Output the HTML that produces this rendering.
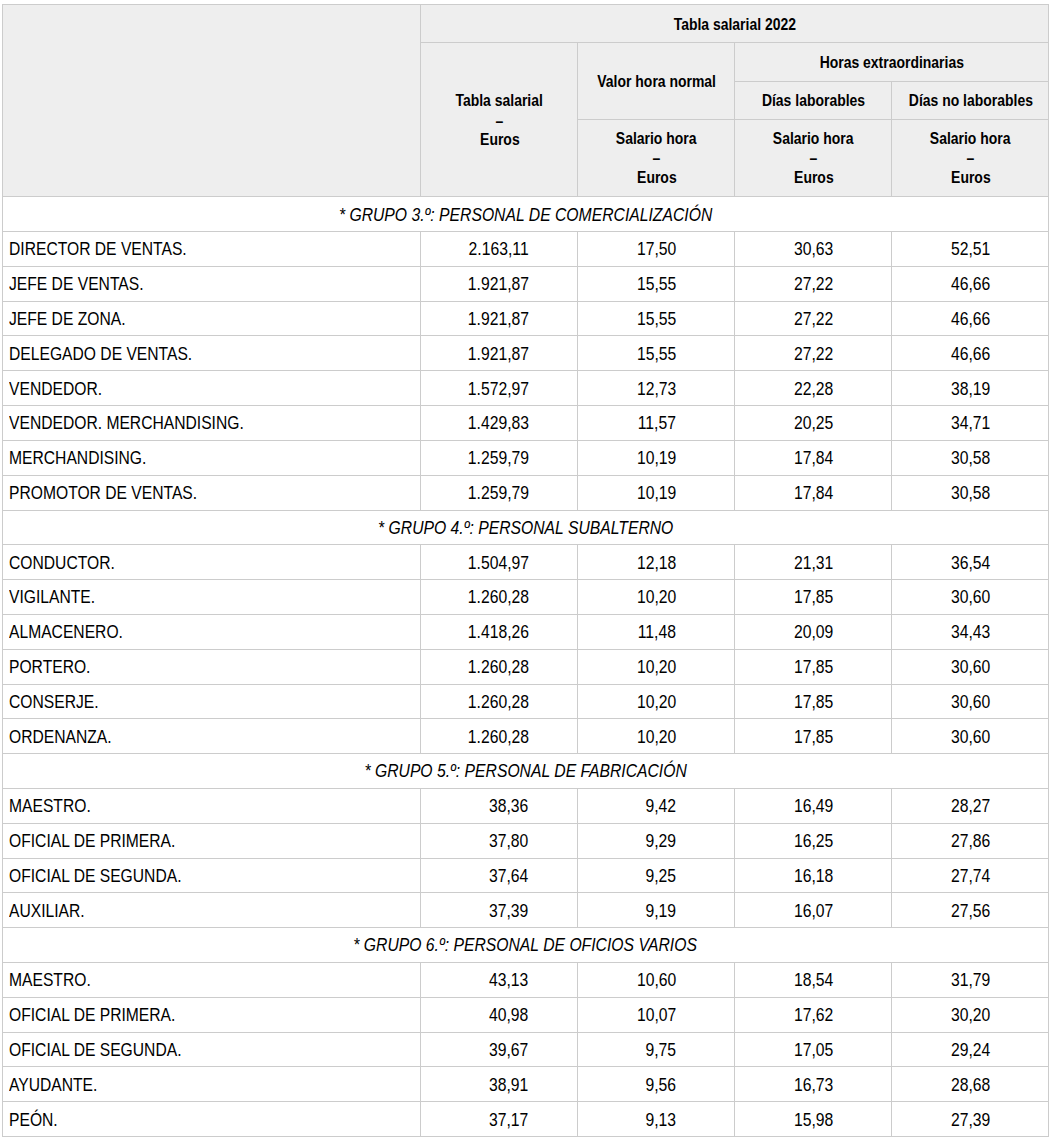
<!DOCTYPE html><html><head><meta charset="utf-8"><style>
html,body{margin:0;padding:0;background:#fff}
body{width:1055px;height:1148px;position:relative;overflow:hidden;font-family:"Liberation Sans",sans-serif;color:#000}
.h,.v{position:absolute;background:#ccc}
.h{height:1px} .v{width:1px}
.t{position:absolute;white-space:nowrap;line-height:20px;height:20px}
.b{font-size:18.5px}
.i{font-style:italic}
.hd{font-weight:bold;font-size:16.5px}
.t span{display:inline-block}
.c{text-align:center} .r{text-align:right} .l{text-align:left}
.b span{transform:scaleX(0.85)}
.b.l span{transform:scaleX(0.846)}
.hd span{transform:translateX(0.5px) scaleX(0.846)}
.c span{transform-origin:50% 50%} .r span{transform-origin:100% 50%} .l span{transform-origin:0 50%}

</style></head><body>
<div style="position:absolute;left:2px;top:4px;width:1047px;height:193px;background:#eee"></div>
<div class="h" style="top:4px;left:2px;width:1047px"></div>
<div class="h" style="top:42px;left:420px;width:629px"></div>
<div class="h" style="top:81px;left:734px;width:315px"></div>
<div class="h" style="top:119px;left:577px;width:472px"></div>
<div class="h" style="top:196px;left:2px;width:1047px"></div>
<div class="v" style="left:2px;top:4px;height:1133px"></div>
<div class="v" style="left:1048px;top:4px;height:1133px"></div>
<div class="v" style="left:420px;top:4px;height:193px"></div>
<div class="v" style="left:577px;top:42px;height:155px"></div>
<div class="v" style="left:734px;top:42px;height:155px"></div>
<div class="v" style="left:891px;top:81px;height:116px"></div>
<div class="h" style="top:231px;left:2px;width:1047px"></div>
<div class="h" style="top:266px;left:2px;width:1047px"></div>
<div class="h" style="top:301px;left:2px;width:1047px"></div>
<div class="h" style="top:335px;left:2px;width:1047px"></div>
<div class="h" style="top:370px;left:2px;width:1047px"></div>
<div class="h" style="top:405px;left:2px;width:1047px"></div>
<div class="h" style="top:440px;left:2px;width:1047px"></div>
<div class="h" style="top:475px;left:2px;width:1047px"></div>
<div class="h" style="top:510px;left:2px;width:1047px"></div>
<div class="h" style="top:544px;left:2px;width:1047px"></div>
<div class="h" style="top:579px;left:2px;width:1047px"></div>
<div class="h" style="top:614px;left:2px;width:1047px"></div>
<div class="h" style="top:649px;left:2px;width:1047px"></div>
<div class="h" style="top:684px;left:2px;width:1047px"></div>
<div class="h" style="top:718px;left:2px;width:1047px"></div>
<div class="h" style="top:753px;left:2px;width:1047px"></div>
<div class="h" style="top:788px;left:2px;width:1047px"></div>
<div class="h" style="top:823px;left:2px;width:1047px"></div>
<div class="h" style="top:858px;left:2px;width:1047px"></div>
<div class="h" style="top:892px;left:2px;width:1047px"></div>
<div class="h" style="top:927px;left:2px;width:1047px"></div>
<div class="h" style="top:962px;left:2px;width:1047px"></div>
<div class="h" style="top:997px;left:2px;width:1047px"></div>
<div class="h" style="top:1032px;left:2px;width:1047px"></div>
<div class="h" style="top:1066px;left:2px;width:1047px"></div>
<div class="h" style="top:1101px;left:2px;width:1047px"></div>
<div class="h" style="top:1136px;left:2px;width:1047px"></div>
<div class="v" style="left:420px;top:231px;height:36px"></div>
<div class="v" style="left:577px;top:231px;height:36px"></div>
<div class="v" style="left:734px;top:231px;height:36px"></div>
<div class="v" style="left:891px;top:231px;height:36px"></div>
<div class="v" style="left:420px;top:266px;height:36px"></div>
<div class="v" style="left:577px;top:266px;height:36px"></div>
<div class="v" style="left:734px;top:266px;height:36px"></div>
<div class="v" style="left:891px;top:266px;height:36px"></div>
<div class="v" style="left:420px;top:301px;height:35px"></div>
<div class="v" style="left:577px;top:301px;height:35px"></div>
<div class="v" style="left:734px;top:301px;height:35px"></div>
<div class="v" style="left:891px;top:301px;height:35px"></div>
<div class="v" style="left:420px;top:335px;height:36px"></div>
<div class="v" style="left:577px;top:335px;height:36px"></div>
<div class="v" style="left:734px;top:335px;height:36px"></div>
<div class="v" style="left:891px;top:335px;height:36px"></div>
<div class="v" style="left:420px;top:370px;height:36px"></div>
<div class="v" style="left:577px;top:370px;height:36px"></div>
<div class="v" style="left:734px;top:370px;height:36px"></div>
<div class="v" style="left:891px;top:370px;height:36px"></div>
<div class="v" style="left:420px;top:405px;height:36px"></div>
<div class="v" style="left:577px;top:405px;height:36px"></div>
<div class="v" style="left:734px;top:405px;height:36px"></div>
<div class="v" style="left:891px;top:405px;height:36px"></div>
<div class="v" style="left:420px;top:440px;height:36px"></div>
<div class="v" style="left:577px;top:440px;height:36px"></div>
<div class="v" style="left:734px;top:440px;height:36px"></div>
<div class="v" style="left:891px;top:440px;height:36px"></div>
<div class="v" style="left:420px;top:475px;height:36px"></div>
<div class="v" style="left:577px;top:475px;height:36px"></div>
<div class="v" style="left:734px;top:475px;height:36px"></div>
<div class="v" style="left:891px;top:475px;height:36px"></div>
<div class="v" style="left:420px;top:544px;height:36px"></div>
<div class="v" style="left:577px;top:544px;height:36px"></div>
<div class="v" style="left:734px;top:544px;height:36px"></div>
<div class="v" style="left:891px;top:544px;height:36px"></div>
<div class="v" style="left:420px;top:579px;height:36px"></div>
<div class="v" style="left:577px;top:579px;height:36px"></div>
<div class="v" style="left:734px;top:579px;height:36px"></div>
<div class="v" style="left:891px;top:579px;height:36px"></div>
<div class="v" style="left:420px;top:614px;height:36px"></div>
<div class="v" style="left:577px;top:614px;height:36px"></div>
<div class="v" style="left:734px;top:614px;height:36px"></div>
<div class="v" style="left:891px;top:614px;height:36px"></div>
<div class="v" style="left:420px;top:649px;height:36px"></div>
<div class="v" style="left:577px;top:649px;height:36px"></div>
<div class="v" style="left:734px;top:649px;height:36px"></div>
<div class="v" style="left:891px;top:649px;height:36px"></div>
<div class="v" style="left:420px;top:684px;height:35px"></div>
<div class="v" style="left:577px;top:684px;height:35px"></div>
<div class="v" style="left:734px;top:684px;height:35px"></div>
<div class="v" style="left:891px;top:684px;height:35px"></div>
<div class="v" style="left:420px;top:718px;height:36px"></div>
<div class="v" style="left:577px;top:718px;height:36px"></div>
<div class="v" style="left:734px;top:718px;height:36px"></div>
<div class="v" style="left:891px;top:718px;height:36px"></div>
<div class="v" style="left:420px;top:788px;height:36px"></div>
<div class="v" style="left:577px;top:788px;height:36px"></div>
<div class="v" style="left:734px;top:788px;height:36px"></div>
<div class="v" style="left:891px;top:788px;height:36px"></div>
<div class="v" style="left:420px;top:823px;height:36px"></div>
<div class="v" style="left:577px;top:823px;height:36px"></div>
<div class="v" style="left:734px;top:823px;height:36px"></div>
<div class="v" style="left:891px;top:823px;height:36px"></div>
<div class="v" style="left:420px;top:858px;height:35px"></div>
<div class="v" style="left:577px;top:858px;height:35px"></div>
<div class="v" style="left:734px;top:858px;height:35px"></div>
<div class="v" style="left:891px;top:858px;height:35px"></div>
<div class="v" style="left:420px;top:892px;height:36px"></div>
<div class="v" style="left:577px;top:892px;height:36px"></div>
<div class="v" style="left:734px;top:892px;height:36px"></div>
<div class="v" style="left:891px;top:892px;height:36px"></div>
<div class="v" style="left:420px;top:962px;height:36px"></div>
<div class="v" style="left:577px;top:962px;height:36px"></div>
<div class="v" style="left:734px;top:962px;height:36px"></div>
<div class="v" style="left:891px;top:962px;height:36px"></div>
<div class="v" style="left:420px;top:997px;height:36px"></div>
<div class="v" style="left:577px;top:997px;height:36px"></div>
<div class="v" style="left:734px;top:997px;height:36px"></div>
<div class="v" style="left:891px;top:997px;height:36px"></div>
<div class="v" style="left:420px;top:1032px;height:35px"></div>
<div class="v" style="left:577px;top:1032px;height:35px"></div>
<div class="v" style="left:734px;top:1032px;height:35px"></div>
<div class="v" style="left:891px;top:1032px;height:35px"></div>
<div class="v" style="left:420px;top:1066px;height:36px"></div>
<div class="v" style="left:577px;top:1066px;height:36px"></div>
<div class="v" style="left:734px;top:1066px;height:36px"></div>
<div class="v" style="left:891px;top:1066px;height:36px"></div>
<div class="v" style="left:420px;top:1101px;height:36px"></div>
<div class="v" style="left:577px;top:1101px;height:36px"></div>
<div class="v" style="left:734px;top:1101px;height:36px"></div>
<div class="v" style="left:891px;top:1101px;height:36px"></div>
<div class="t hd c" style="left:421px;width:627px;top:14.08px"><span>Tabla salarial 2022</span></div>
<div class="t hd c" style="left:578px;width:156px;top:71.18px"><span>Valor hora normal</span></div>
<div class="t hd c" style="left:735px;width:313px;top:52.18px"><span>Horas extraordinarias</span></div>
<div class="t hd c" style="left:735px;width:156px;top:89.68px"><span>Días laborables</span></div>
<div class="t hd c" style="left:892px;width:156px;top:89.68px"><span>Días no laborables</span></div>
<div class="t hd c" style="left:421px;width:156px;top:90.28px"><span>Tabla salarial</span></div>
<div class="t hd c" style="left:421px;width:156px;top:109.68px"><span style="transform:translate(0.8px,0.6px) scaleX(0.846)">–</span></div>
<div class="t hd c" style="left:421px;width:156px;top:129.08px"><span>Euros</span></div>
<div class="t hd c" style="left:578px;width:156px;top:128.08px"><span>Salario hora</span></div>
<div class="t hd c" style="left:578px;width:156px;top:147.48px"><span style="transform:translate(0.8px,1.4px) scaleX(0.846)">–</span></div>
<div class="t hd c" style="left:578px;width:156px;top:166.88px"><span>Euros</span></div>
<div class="t hd c" style="left:735px;width:156px;top:128.08px"><span>Salario hora</span></div>
<div class="t hd c" style="left:735px;width:156px;top:147.48px"><span style="transform:translate(0.8px,1.4px) scaleX(0.846)">–</span></div>
<div class="t hd c" style="left:735px;width:156px;top:166.88px"><span>Euros</span></div>
<div class="t hd c" style="left:892px;width:156px;top:128.08px"><span>Salario hora</span></div>
<div class="t hd c" style="left:892px;width:156px;top:147.48px"><span style="transform:translate(0.8px,1.4px) scaleX(0.846)">–</span></div>
<div class="t hd c" style="left:892px;width:156px;top:166.88px"><span>Euros</span></div>
<div class="t b i c" style="left:3px;width:1045px;top:205.00px"><span>* GRUPO 3.º: PERSONAL DE COMERCIALIZACIÓN</span></div>
<div class="t b l" style="left:8.9px;width:400px;top:239.00px"><span>DIRECTOR DE VENTAS.</span></div>
<div class="t b r" style="left:378.60px;width:150px;top:239.00px"><span>2.163,11</span></div>
<div class="t b r" style="left:526.00px;width:150px;top:239.00px"><span>17,50</span></div>
<div class="t b r" style="left:683.50px;width:150px;top:239.00px"><span>30,63</span></div>
<div class="t b r" style="left:839.90px;width:150px;top:239.00px"><span>52,51</span></div>
<div class="t b l" style="left:8.9px;width:400px;top:274.00px"><span>JEFE DE VENTAS.</span></div>
<div class="t b r" style="left:378.60px;width:150px;top:274.00px"><span>1.921,87</span></div>
<div class="t b r" style="left:526.00px;width:150px;top:274.00px"><span>15,55</span></div>
<div class="t b r" style="left:683.50px;width:150px;top:274.00px"><span>27,22</span></div>
<div class="t b r" style="left:839.90px;width:150px;top:274.00px"><span>46,66</span></div>
<div class="t b l" style="left:8.9px;width:400px;top:309.00px"><span>JEFE DE ZONA.</span></div>
<div class="t b r" style="left:378.60px;width:150px;top:309.00px"><span>1.921,87</span></div>
<div class="t b r" style="left:526.00px;width:150px;top:309.00px"><span>15,55</span></div>
<div class="t b r" style="left:683.50px;width:150px;top:309.00px"><span>27,22</span></div>
<div class="t b r" style="left:839.90px;width:150px;top:309.00px"><span>46,66</span></div>
<div class="t b l" style="left:8.9px;width:400px;top:344.00px"><span>DELEGADO DE VENTAS.</span></div>
<div class="t b r" style="left:378.60px;width:150px;top:344.00px"><span>1.921,87</span></div>
<div class="t b r" style="left:526.00px;width:150px;top:344.00px"><span>15,55</span></div>
<div class="t b r" style="left:683.50px;width:150px;top:344.00px"><span>27,22</span></div>
<div class="t b r" style="left:839.90px;width:150px;top:344.00px"><span>46,66</span></div>
<div class="t b l" style="left:8.9px;width:400px;top:379.00px"><span>VENDEDOR.</span></div>
<div class="t b r" style="left:378.60px;width:150px;top:379.00px"><span>1.572,97</span></div>
<div class="t b r" style="left:526.00px;width:150px;top:379.00px"><span>12,73</span></div>
<div class="t b r" style="left:683.50px;width:150px;top:379.00px"><span>22,28</span></div>
<div class="t b r" style="left:839.90px;width:150px;top:379.00px"><span>38,19</span></div>
<div class="t b l" style="left:8.9px;width:400px;top:413.00px"><span>VENDEDOR. MERCHANDISING.</span></div>
<div class="t b r" style="left:378.60px;width:150px;top:413.00px"><span>1.429,83</span></div>
<div class="t b r" style="left:526.00px;width:150px;top:413.00px"><span>11,57</span></div>
<div class="t b r" style="left:683.50px;width:150px;top:413.00px"><span>20,25</span></div>
<div class="t b r" style="left:839.90px;width:150px;top:413.00px"><span>34,71</span></div>
<div class="t b l" style="left:8.9px;width:400px;top:448.00px"><span>MERCHANDISING.</span></div>
<div class="t b r" style="left:378.60px;width:150px;top:448.00px"><span>1.259,79</span></div>
<div class="t b r" style="left:526.00px;width:150px;top:448.00px"><span>10,19</span></div>
<div class="t b r" style="left:683.50px;width:150px;top:448.00px"><span>17,84</span></div>
<div class="t b r" style="left:839.90px;width:150px;top:448.00px"><span>30,58</span></div>
<div class="t b l" style="left:8.9px;width:400px;top:483.00px"><span>PROMOTOR DE VENTAS.</span></div>
<div class="t b r" style="left:378.60px;width:150px;top:483.00px"><span>1.259,79</span></div>
<div class="t b r" style="left:526.00px;width:150px;top:483.00px"><span>10,19</span></div>
<div class="t b r" style="left:683.50px;width:150px;top:483.00px"><span>17,84</span></div>
<div class="t b r" style="left:839.90px;width:150px;top:483.00px"><span>30,58</span></div>
<div class="t b i c" style="left:3px;width:1045px;top:518.00px"><span>* GRUPO 4.º: PERSONAL SUBALTERNO</span></div>
<div class="t b l" style="left:8.9px;width:400px;top:553.00px"><span>CONDUCTOR.</span></div>
<div class="t b r" style="left:378.60px;width:150px;top:553.00px"><span>1.504,97</span></div>
<div class="t b r" style="left:526.00px;width:150px;top:553.00px"><span>12,18</span></div>
<div class="t b r" style="left:683.50px;width:150px;top:553.00px"><span>21,31</span></div>
<div class="t b r" style="left:839.90px;width:150px;top:553.00px"><span>36,54</span></div>
<div class="t b l" style="left:8.9px;width:400px;top:587.00px"><span>VIGILANTE.</span></div>
<div class="t b r" style="left:378.60px;width:150px;top:587.00px"><span>1.260,28</span></div>
<div class="t b r" style="left:526.00px;width:150px;top:587.00px"><span>10,20</span></div>
<div class="t b r" style="left:683.50px;width:150px;top:587.00px"><span>17,85</span></div>
<div class="t b r" style="left:839.90px;width:150px;top:587.00px"><span>30,60</span></div>
<div class="t b l" style="left:8.9px;width:400px;top:622.00px"><span>ALMACENERO.</span></div>
<div class="t b r" style="left:378.60px;width:150px;top:622.00px"><span>1.418,26</span></div>
<div class="t b r" style="left:526.00px;width:150px;top:622.00px"><span>11,48</span></div>
<div class="t b r" style="left:683.50px;width:150px;top:622.00px"><span>20,09</span></div>
<div class="t b r" style="left:839.90px;width:150px;top:622.00px"><span>34,43</span></div>
<div class="t b l" style="left:8.9px;width:400px;top:657.00px"><span>PORTERO.</span></div>
<div class="t b r" style="left:378.60px;width:150px;top:657.00px"><span>1.260,28</span></div>
<div class="t b r" style="left:526.00px;width:150px;top:657.00px"><span>10,20</span></div>
<div class="t b r" style="left:683.50px;width:150px;top:657.00px"><span>17,85</span></div>
<div class="t b r" style="left:839.90px;width:150px;top:657.00px"><span>30,60</span></div>
<div class="t b l" style="left:8.9px;width:400px;top:692.00px"><span>CONSERJE.</span></div>
<div class="t b r" style="left:378.60px;width:150px;top:692.00px"><span>1.260,28</span></div>
<div class="t b r" style="left:526.00px;width:150px;top:692.00px"><span>10,20</span></div>
<div class="t b r" style="left:683.50px;width:150px;top:692.00px"><span>17,85</span></div>
<div class="t b r" style="left:839.90px;width:150px;top:692.00px"><span>30,60</span></div>
<div class="t b l" style="left:8.9px;width:400px;top:727.00px"><span>ORDENANZA.</span></div>
<div class="t b r" style="left:378.60px;width:150px;top:727.00px"><span>1.260,28</span></div>
<div class="t b r" style="left:526.00px;width:150px;top:727.00px"><span>10,20</span></div>
<div class="t b r" style="left:683.50px;width:150px;top:727.00px"><span>17,85</span></div>
<div class="t b r" style="left:839.90px;width:150px;top:727.00px"><span>30,60</span></div>
<div class="t b i c" style="left:3px;width:1045px;top:761.00px"><span>* GRUPO 5.º: PERSONAL DE FABRICACIÓN</span></div>
<div class="t b l" style="left:8.9px;width:400px;top:796.00px"><span>MAESTRO.</span></div>
<div class="t b r" style="left:378.60px;width:150px;top:796.00px"><span>38,36</span></div>
<div class="t b r" style="left:526.00px;width:150px;top:796.00px"><span>9,42</span></div>
<div class="t b r" style="left:683.50px;width:150px;top:796.00px"><span>16,49</span></div>
<div class="t b r" style="left:839.90px;width:150px;top:796.00px"><span>28,27</span></div>
<div class="t b l" style="left:8.9px;width:400px;top:831.00px"><span>OFICIAL DE PRIMERA.</span></div>
<div class="t b r" style="left:378.60px;width:150px;top:831.00px"><span>37,80</span></div>
<div class="t b r" style="left:526.00px;width:150px;top:831.00px"><span>9,29</span></div>
<div class="t b r" style="left:683.50px;width:150px;top:831.00px"><span>16,25</span></div>
<div class="t b r" style="left:839.90px;width:150px;top:831.00px"><span>27,86</span></div>
<div class="t b l" style="left:8.9px;width:400px;top:866.00px"><span>OFICIAL DE SEGUNDA.</span></div>
<div class="t b r" style="left:378.60px;width:150px;top:866.00px"><span>37,64</span></div>
<div class="t b r" style="left:526.00px;width:150px;top:866.00px"><span>9,25</span></div>
<div class="t b r" style="left:683.50px;width:150px;top:866.00px"><span>16,18</span></div>
<div class="t b r" style="left:839.90px;width:150px;top:866.00px"><span>27,74</span></div>
<div class="t b l" style="left:8.9px;width:400px;top:901.00px"><span>AUXILIAR.</span></div>
<div class="t b r" style="left:378.60px;width:150px;top:901.00px"><span>37,39</span></div>
<div class="t b r" style="left:526.00px;width:150px;top:901.00px"><span>9,19</span></div>
<div class="t b r" style="left:683.50px;width:150px;top:901.00px"><span>16,07</span></div>
<div class="t b r" style="left:839.90px;width:150px;top:901.00px"><span>27,56</span></div>
<div class="t b i c" style="left:3px;width:1045px;top:935.00px"><span>* GRUPO 6.º: PERSONAL DE OFICIOS VARIOS</span></div>
<div class="t b l" style="left:8.9px;width:400px;top:970.00px"><span>MAESTRO.</span></div>
<div class="t b r" style="left:378.60px;width:150px;top:970.00px"><span>43,13</span></div>
<div class="t b r" style="left:526.00px;width:150px;top:970.00px"><span>10,60</span></div>
<div class="t b r" style="left:683.50px;width:150px;top:970.00px"><span>18,54</span></div>
<div class="t b r" style="left:839.90px;width:150px;top:970.00px"><span>31,79</span></div>
<div class="t b l" style="left:8.9px;width:400px;top:1005.00px"><span>OFICIAL DE PRIMERA.</span></div>
<div class="t b r" style="left:378.60px;width:150px;top:1005.00px"><span>40,98</span></div>
<div class="t b r" style="left:526.00px;width:150px;top:1005.00px"><span>10,07</span></div>
<div class="t b r" style="left:683.50px;width:150px;top:1005.00px"><span>17,62</span></div>
<div class="t b r" style="left:839.90px;width:150px;top:1005.00px"><span>30,20</span></div>
<div class="t b l" style="left:8.9px;width:400px;top:1040.00px"><span>OFICIAL DE SEGUNDA.</span></div>
<div class="t b r" style="left:378.60px;width:150px;top:1040.00px"><span>39,67</span></div>
<div class="t b r" style="left:526.00px;width:150px;top:1040.00px"><span>9,75</span></div>
<div class="t b r" style="left:683.50px;width:150px;top:1040.00px"><span>17,05</span></div>
<div class="t b r" style="left:839.90px;width:150px;top:1040.00px"><span>29,24</span></div>
<div class="t b l" style="left:8.9px;width:400px;top:1075.00px"><span>AYUDANTE.</span></div>
<div class="t b r" style="left:378.60px;width:150px;top:1075.00px"><span>38,91</span></div>
<div class="t b r" style="left:526.00px;width:150px;top:1075.00px"><span>9,56</span></div>
<div class="t b r" style="left:683.50px;width:150px;top:1075.00px"><span>16,73</span></div>
<div class="t b r" style="left:839.90px;width:150px;top:1075.00px"><span>28,68</span></div>
<div class="t b l" style="left:8.9px;width:400px;top:1110.00px"><span>PEÓN.</span></div>
<div class="t b r" style="left:378.60px;width:150px;top:1110.00px"><span>37,17</span></div>
<div class="t b r" style="left:526.00px;width:150px;top:1110.00px"><span>9,13</span></div>
<div class="t b r" style="left:683.50px;width:150px;top:1110.00px"><span>15,98</span></div>
<div class="t b r" style="left:839.90px;width:150px;top:1110.00px"><span>27,39</span></div>
</body></html>
